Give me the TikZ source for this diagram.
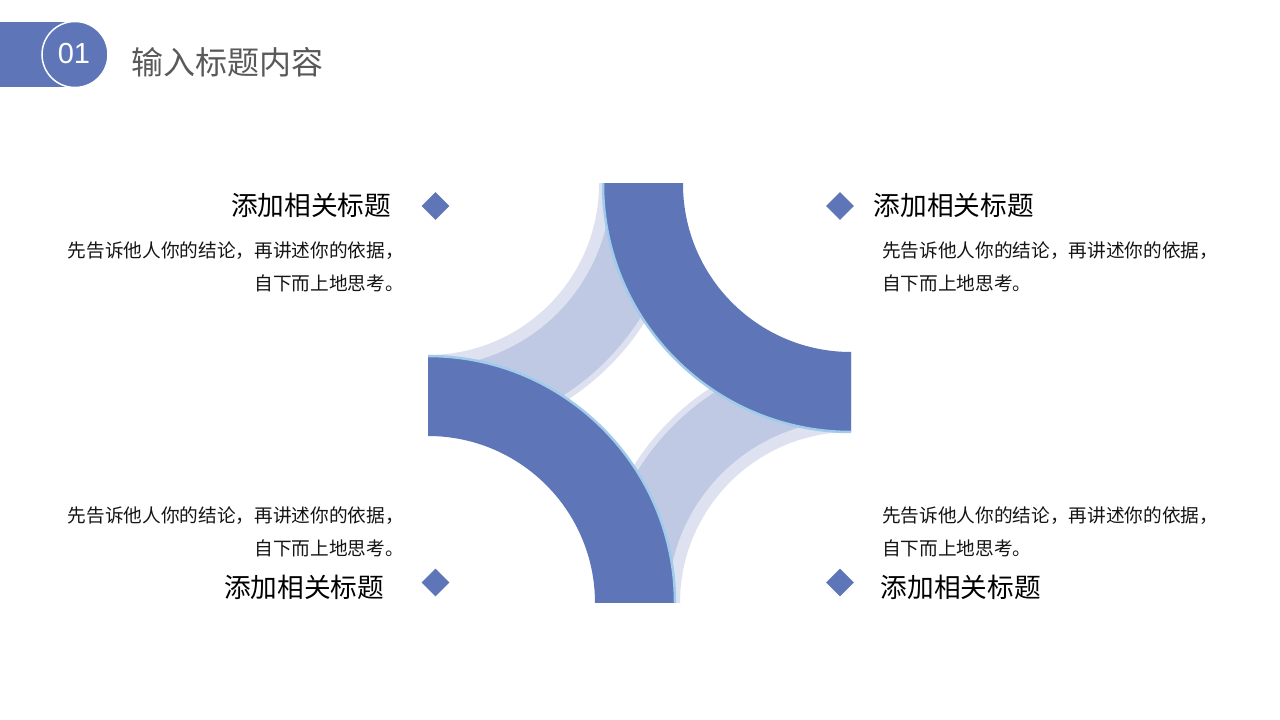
\documentclass[tikz,border=0pt]{standalone}
\usepackage{fontspec}
\setmainfont{Liberation Sans}
\newfontfamily\cjk{Noto Sans CJK SC}
\usetikzlibrary{shapes.geometric}
\definecolor{darkblue}{RGB}{94,117,184}
\definecolor{paleblue}{RGB}{222,226,240}
\definecolor{midblue}{RGB}{192,201,228}
\definecolor{edgeblue}{RGB}{160,203,234}
\definecolor{titlegray}{RGB}{89,89,89}
\definecolor{bodytext}{RGB}{20,20,20}
\tikzset{
  marker/.style={diamond, fill=darkblue, draw=none, minimum size=28pt, inner sep=0pt},
  headtext/.style={inner sep=0pt, font=\cjk\fontsize{26.67}{32}\selectfont, text=black},
  bodyblock/.style={inner sep=0pt, font=\cjk\fontsize{18.67}{33}\selectfont, text=bodytext},
}
\begin{document}
\begin{tikzpicture}[x=1pt,y=1pt]
\useasboundingbox (0,0) rectangle (1280,720);
% header
\fill[darkblue] (0,633) rectangle (75,698);
\node[circle, fill=darkblue, draw=white, line width=1.5pt, minimum size=66pt, inner sep=0pt] (badge) at (75,665.5) {};
\node[text=white, font=\fontsize{29}{32}\selectfont, inner sep=0pt] (num) at (74,666) {01};
\node[anchor=west, inner sep=0pt, text=titlegray, font=\cjk\fontsize{32}{36}\selectfont] (title) at (131.5,658) {输入标题内容};
% central figure
\coordinate (TL) at (428,536);
\coordinate (TR) at (851,536);
\coordinate (BL) at (428,117);
\coordinate (BR) at (851,117);
\begin{scope}
  \clip (428,117) rectangle (851,536);
  % pale annuli
  \fill[paleblue, even odd rule] (TL) circle (257) (TL) circle (171);
  \fill[paleblue, even odd rule] (BR) circle (257) (BR) circle (171);
  % medium annuli
  \fill[midblue, even odd rule] (TL) circle (251) (TL) circle (183);
  \fill[midblue, even odd rule] (BR) circle (251) (BR) circle (183);
\end{scope}
\begin{scope}
  \clip (420,110) rectangle (860,545);
  \fill[white] (TR) circle (168.5);
  \fill[white] (BL) circle (167.5);
\end{scope}
\begin{scope}
  \clip (428,117) rectangle (851,536);
  % dark quarter rings
  \fill[darkblue, even odd rule] (TR) circle (248) (TR) circle (168);
  \fill[darkblue, even odd rule] (BL) circle (247) (BL) circle (167);
  \draw[edgeblue, line width=2.5pt] (TR) circle (248);
  \draw[edgeblue, line width=2.5pt] (BL) circle (247);
\end{scope}
% markers
\node[marker] (m1) at (435.5,514) {};
\node[marker] (m2) at (840,514) {};
\node[marker] (m3) at (435.5,137.5) {};
\node[marker] (m4) at (840,137.5) {};
% texts top-left
\node[headtext, anchor=east] (h1) at (391.5,515) {添加相关标题};
\node[bodyblock, anchor=east, align=right] (b1) at (404,452.7) {先告诉他人你的结论，再讲述你的依据，\\自下而上地思考。};
% top-right
\node[headtext, anchor=west] (h2) at (873.5,515) {添加相关标题};
\node[bodyblock, anchor=west, align=left] (b2) at (882,452.7) {先告诉他人你的结论，再讲述你的依据，\\自下而上地思考。};
% bottom-left
\node[bodyblock, anchor=east, align=right] (b3) at (404,188) {先告诉他人你的结论，再讲述你的依据，\\自下而上地思考。};
\node[headtext, anchor=east] (h3) at (384.5,133) {添加相关标题};
% bottom-right
\node[bodyblock, anchor=west, align=left] (b4) at (882,188) {先告诉他人你的结论，再讲述你的依据，\\自下而上地思考。};
\node[headtext, anchor=west] (h4) at (880.5,133) {添加相关标题};
\end{tikzpicture}
\end{document}
